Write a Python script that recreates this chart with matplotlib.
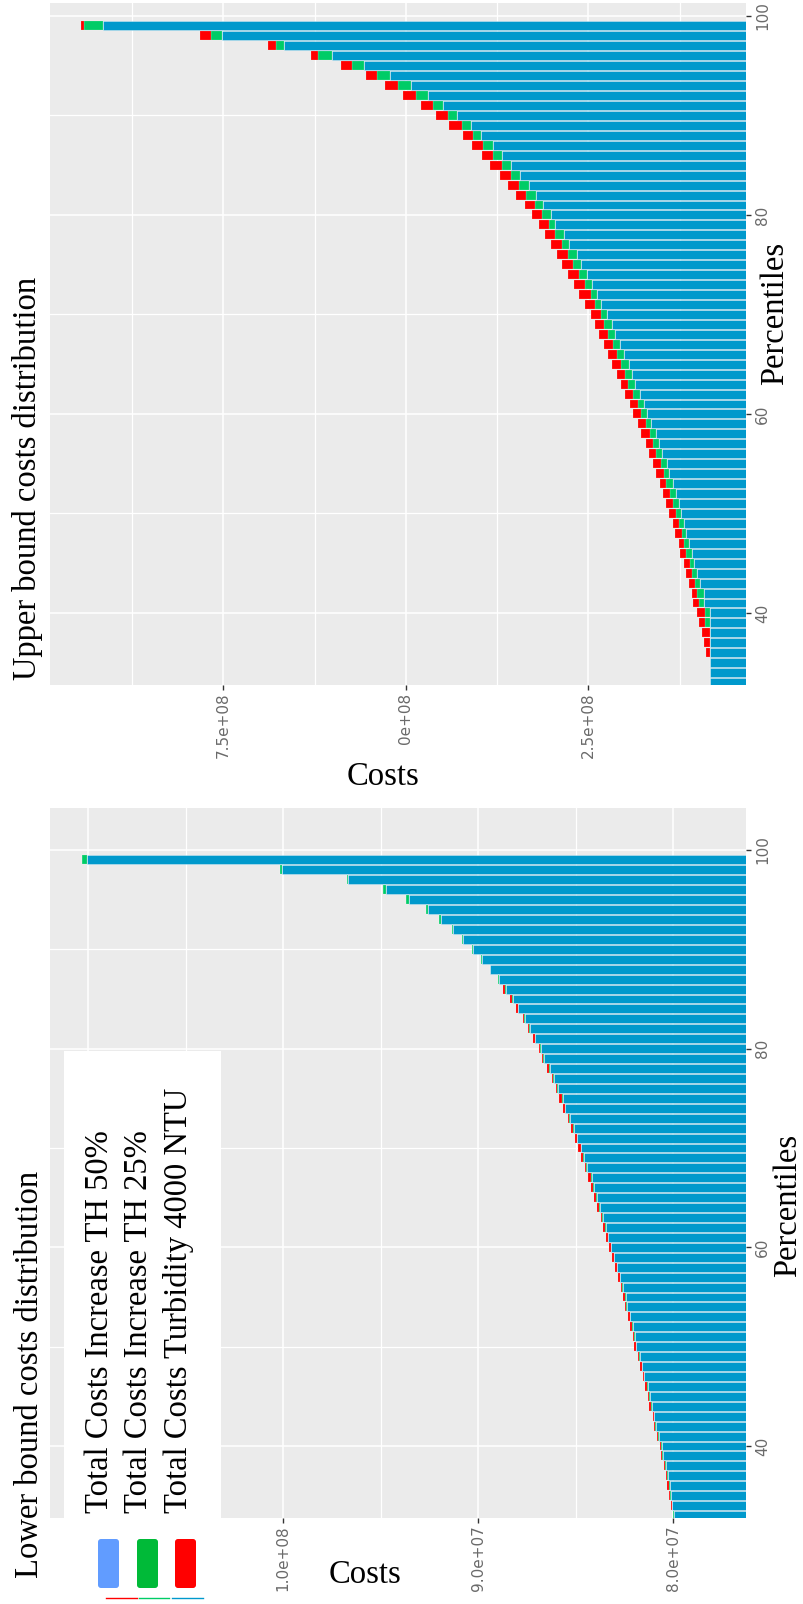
import numpy as np
import matplotlib
matplotlib.use("Agg")
import matplotlib.pyplot as plt
from matplotlib.patches import FancyBboxPatch, Rectangle

W, H = 804, 1604

percentiles = list(range(33, 100))

# upper bound costs (millions), percentiles 33..99
upper_blue = [83.3, 83.3, 83.3, 83.3, 83.3, 83.3, 83.3, 83.3, 91.1, 91.5,
              97.0, 100.7, 104.8, 108.4, 112.5, 116.2, 118.5, 122.6, 126.2, 130.3,
              134.4, 139.0, 142.8, 148.9, 153.2, 157.4, 164.4, 169.4, 174.3, 179.9,
              185.5, 190.4, 194.6, 200.9, 206.5, 212.8, 217.0, 224.1, 232.5, 238.8,
              245.1, 252.1, 259.8, 266.1, 275.9, 283.7, 295.6, 301.2, 311.7, 321.5,
              331.3, 343.3, 356.6, 368.5, 380.4, 396.6, 410.6, 429.5, 449.2, 470.2,
              492.6, 521.4, 557.2, 600.6, 667.3, 751.4, 914.8]
upper_green = [0, 0, 0, 0, 0, 0, 7.3, 7.3, 6.9, 9.1,
               7.3, 7.8, 5.9, 8.2, 5.9, 5.9, 7.8, 7.3, 7.8, 7.8,
               9.6, 8.0, 8.1, 8.4, 8.4, 8.4, 7.0, 8.4, 7.7, 8.4,
               9.8, 9.1, 10.5, 9.8, 9.1, 9.8, 11.2, 8.4, 8.4, 7.7,
               9.1, 10.5, 11.2, 11.2, 9.8, 11.9, 7.7, 11.9, 11.9, 13.3,
               13.3, 12.6, 11.9, 11.9, 13.3, 11.2, 12.6, 13.3, 14.0, 16.1,
               17.5, 18.2, 16.1, 19.6, 10.5, 16.1, 25.9]
upper_red = [0, 0, 0, 5.5, 7.8, 11.4, 8.2, 10.0, 8.2, 7.3,
             8.2, 7.8, 7.8, 7.8, 7.8, 8.7, 8.2, 10.0, 10.0, 10.0,
             8.4, 10.5, 10.5, 9.8, 9.8, 11.9, 10.5, 10.5, 11.2, 11.2,
             9.8, 11.2, 11.9, 11.9, 13.3, 12.6, 12.6, 14.0, 14.0, 16.1,
             16.1, 15.4, 14.7, 16.1, 15.4, 14.0, 14.0, 14.0, 13.3, 14.0,
             15.4, 14.7, 16.1, 15.4, 16.1, 13.3, 17.5, 16.1, 15.4, 17.5,
             18.9, 15.4, 15.4, 9.8, 11.2, 14.0, 4.9]

# lower bound costs (millions), percentiles 33..99
lower_blue = [79.98, 80.06, 80.14, 80.19, 80.27, 80.38, 80.53, 80.59, 80.74, 80.90,
              80.98, 81.11, 81.19, 81.32, 81.48, 81.58, 81.71, 81.90, 81.98, 82.08,
              82.21, 82.37, 82.44, 82.58, 82.72, 82.87, 83.03, 83.18, 83.33, 83.47,
              83.61, 83.76, 83.91, 84.07, 84.18, 84.43, 84.58, 84.73, 84.94, 85.09,
              85.31, 85.55, 85.67, 85.90, 86.10, 86.34, 86.62, 86.80, 87.07, 87.36,
              87.62, 87.94, 88.22, 88.59, 88.96, 89.38, 89.80, 90.27, 90.77, 91.28,
              91.93, 92.60, 93.54, 94.73, 96.67, 100.05, 110.05]
lower_green = [0.03, 0.03, 0.03, 0.03, 0.04, 0.03, 0.03, 0.04, 0.03, 0.03,
               0.03, 0.04, 0.03, 0.03, 0.03, 0.04, 0.03, 0.03, 0.03, 0.04,
               0.03, 0.03, 0.02, 0.03, 0.03, 0.03, 0.03, 0.02, 0.02, 0.03,
               0.03, 0.03, 0.05, 0.03, 0.03, 0.03, 0.03, 0.02, 0.02, 0.03,
               0.03, 0.02, 0.03, 0.05, 0.05, 0.05, 0.08, 0.05, 0.03, 0.03,
               0.05, 0.03, 0.03, 0.03, 0.04, 0.04, 0.08, 0.05, 0.08, 0.08,
               0.10, 0.10, 0.14, 0.14, 0.05, 0.12, 0.29]
lower_red = [0.02, 0.02, 0.03, 0.08, 0.07, 0.05, 0.08, 0.07, 0.05, 0.08,
             0.05, 0.07, 0.05, 0.08, 0.05, 0.10, 0.07, 0.08, 0.05, 0.10,
             0.08, 0.07, 0.14, 0.07, 0.07, 0.07, 0.07, 0.085, 0.085, 0.085,
             0.07, 0.14, 0.10, 0.14, 0.14, 0.07, 0.14, 0.14, 0.085, 0.14,
             0.07, 0.07, 0.14, 0.07, 0.085, 0.07, 0.02, 0.02, 0.08, 0.08,
             0.05, 0.10, 0.10, 0.10, 0, 0, 0, 0, 0, 0,
             0, 0, 0, 0, 0, 0, 0]

legend_labels = ["Total Costs Increase TH 50%", "Total Costs Increase TH 25%",
                 "Total Costs Turbidity 4000 NTU"]
legend_colors = ["#619CFF", "#00BA38", "#FF0000"]

BLUE, GREEN, RED = "#0099CC", "#00CC66", "#FF0000"
SERIF = "Liberation Serif"


def draw_panel(ax, blue, green, red, xlim, ylim, major, labels, minor):
    blue = np.array(blue) * 1e6
    green = np.array(green) * 1e6
    red = np.array(red) * 1e6
    edge = (1, 1, 1, 0.4)
    ax.barh(percentiles, blue, height=0.9, color=BLUE, edgecolor=edge, lw=0.6)
    ax.barh(percentiles, green, left=blue, height=0.9, color=GREEN, edgecolor=edge, lw=0.3)
    ax.barh(percentiles, red, left=blue + green, height=0.9, color=RED, edgecolor=edge, lw=0.3)

    ax.set_facecolor("#EBEBEB")
    ax.set_xlim(*xlim)
    ax.set_ylim(*ylim)
    ax.set_xticks(major)
    ax.set_xticklabels(labels)
    ax.set_xticks(minor, minor=True)
    ax.set_yticks([40, 60, 80, 100])
    ax.set_yticks([50, 70, 90], minor=True)
    ax.yaxis.tick_right()
    ax.grid(which="major", color="white", lw=1.1)
    ax.grid(which="minor", color="white", lw=0.9)
    ax.set_axisbelow(True)
    for s in ax.spines.values():
        s.set_visible(False)
    ax.tick_params(which="major", direction="out", length=3.5, width=1, color="#333333",
                   labelsize=11, labelcolor="#6a6a6a")
    ax.tick_params(which="minor", length=0)
    ax.tick_params(axis="x", labelrotation=90, pad=2)
    ax.tick_params(axis="y", labelrotation=90, pad=3)
    for t in ax.get_yticklabels():
        t.set_va("center")


fig = plt.figure(figsize=(W / 100, H / 100), dpi=100)

ax_up = fig.add_axes([50 / W, 1 - 685 / H, 696 / W, 682 / H])
draw_panel(ax_up, upper_blue, upper_green, upper_red,
           (987.5e6, 34.0e6), (32.76, 101.3),
           [7.5e8, 5.0e8, 2.5e8], ["7.5e+08", "0e+08", "2.5e+08"],
           [8.75e8, 6.25e8, 3.75e8, 1.25e8])

ax_lo = fig.add_axes([50 / W, 1 - 1518 / H, 696 / W, 710 / H])
draw_panel(ax_lo, lower_blue, lower_green, lower_red,
           (111.96e6, 76.27e6), (32.75, 104.23),
           [1.1e8, 1.0e8, 9.0e7, 8.0e7], ["1.1e+08", "1.0e+08", "9.0e+07", "8.0e+07"],
           [1.05e8, 9.5e7, 8.5e7])

# overlay in pixel coordinates for the text and the pasted legend
ov = fig.add_axes([0, 0, 1, 1], zorder=10)
ov.set_xlim(0, W)
ov.set_ylim(H, 0)
ov.axis("off")
ov.patch.set_alpha(0)

fs = 23.5
ov.text(36, 680, "Upper bound costs distribution", rotation=90, rotation_mode="anchor",
        ha="left", va="baseline", family=SERIF, fontsize=fs)
ov.text(38, 1578, "Lower bound costs distribution", rotation=90, rotation_mode="anchor",
        ha="left", va="baseline", family=SERIF, fontsize=fs)
ov.text(783, 313, "Percentiles", rotation=90, rotation_mode="anchor",
        ha="center", va="baseline", family=SERIF, fontsize=fs)
ov.text(796, 1205, "Percentiles", rotation=90, rotation_mode="anchor",
        ha="center", va="baseline", family=SERIF, fontsize=fs)
ov.text(383, 785, "Costs", ha="center", va="baseline", family=SERIF, fontsize=fs)
ov.text(365, 1583, "Costs", ha="center", va="baseline", family=SERIF, fontsize=fs)

# legend box
ov.add_patch(Rectangle((64, 1051), 157, H - 1051, facecolor="white", edgecolor="none"))
for lab, xb in zip(legend_labels, [108, 147, 187]):
    ov.text(xb, 1513, lab, rotation=90, rotation_mode="anchor",
            ha="left", va="baseline", family=SERIF, fontsize=fs)
for col, xk in zip(legend_colors, [98, 137, 175]):
    ov.add_patch(FancyBboxPatch((xk, 1539), 21, 49, boxstyle="round,pad=0,rounding_size=3",
                                facecolor=col, edgecolor="none"))
for col, (x0, x1) in zip([RED, GREEN, BLUE], [(106, 137), (139, 169), (172, 203)]):
    ov.plot([x0, x1], [1598, 1598], color=col, lw=1)

fig.savefig("out.png", dpi=100, facecolor="white")
